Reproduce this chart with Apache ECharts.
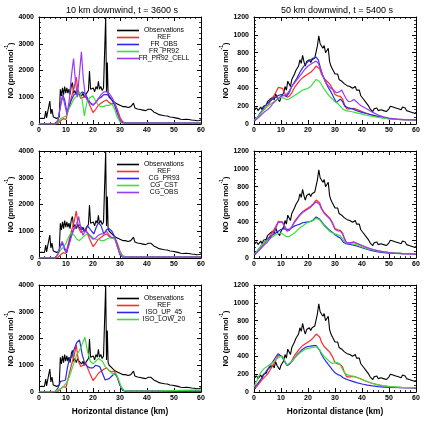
<!DOCTYPE html>
<html>
<head>
<meta charset="utf-8">
<script src="https://cdn.jsdelivr.net/npm/echarts@6/dist/echarts.min.js"></script>
<style>
  html, body { margin: 0; padding: 0; background: #fff; }
  #main { width: 425px; height: 422px; }
</style>
</head>
<body>
<div id="main"></div>
<script>
// panel titles / axis text
const colTitles = ["10 km downwind, t = 3600 s", "50 km downwind, t = 5400 s"];
const xName = "Horizontal distance (km)";
const yMaxLeft = 4000, yStepLeft = 1000;
const yMaxRight = 1200, yStepRight = 200;

// observations, 10 km downwind (same in all left panels)
const obsLeft = [
  [0,200],[0.5,190],[1,215],[1.5,180],[2,205],[2.5,480],[2.8,230],[3.5,250],[4,860],[4.4,380],[4.8,560],[5.3,260],
  [6,300],[6.5,210],[7,180],[7.5,260],[7.9,1300],[8.3,1050],[8.7,1350],[9.1,1100],[9.5,1400],[9.9,1150],[10.3,1350],
  [10.7,1150],[11.1,1300],[11.5,1100],[12,1450],[12.4,1550],[12.8,1150],[13.3,1250],[13.8,1100],[14.3,1250],[14.8,1150],
  [15.3,1200],[15.8,1050],[16.3,1150],[16.8,1000],[17.3,1100],[17.8,1050],[18.3,1250],[18.7,1980],[19.1,1300],[19.6,1250],
  [20.1,1350],[20.6,1200],[21.1,1400],[21.6,1300],[22,1600],[22.4,1300],[22.9,1400],[23.4,1250],[23.9,1350],[24.3,1400],
  [24.7,4000],[25,1200],[25.3,2300],[25.6,1100],[26,1000],[26.5,1050],[27,900],[27.5,950],[28,800],[28.5,850],[29,750],
  [29.5,800],[30,700],[30.5,720],[31,650],[31.5,700],[32,650],[32.5,680],[33,620],[33.5,600],[34,650],[34.5,600],[35,780],
  [35.5,600],[36,550],[36.5,560],[37,520],[37.5,540],[38,500],[38.5,520],[39,480],[39.5,500],[40,450],[40.5,550],[41,620],
  [41.5,550],[42,500],[42.5,450],[43,420],[43.5,400],[44,380],[44.5,350],[45,320],[45.5,330],[46,300],[46.5,310],[47,290],
  [47.5,300],[48,280],[48.5,260],[49,270],[49.5,250],[50,220],[50.5,230],[51,200],[51.5,210],[52,190],[52.5,180],[53,200],
  [53.5,170],[54,160],[54.5,180],[55,150],[55.5,170],[56,140],[56.5,150],[57,130],[57.5,140],[58,110],[58.5,120],[59,100],
  [59.5,130],[60,160]
];

// observations, 50 km downwind (same in all right panels)
const obsRight = [
  [0,170],[0.5,160],[1,180],[1.5,150],[2,170],[2.5,190],[3,160],[3.5,200],[4,180],[4.5,210],[5,250],[5.5,230],[6,280],
  [6.5,260],[7,300],[7.5,270],[8,340],[8.5,300],[9,280],[9.5,250],[10,300],[10.5,280],[11,350],[11.5,420],[12,380],
  [12.5,480],[13,500],[13.5,420],[14,500],[14.5,480],[15,560],[15.5,600],[16,580],[16.5,650],[17,720],[17.5,680],[18,770],
  [18.5,700],[19,650],[19.5,700],[20,680],[20.5,720],[21,690],[21.5,720],[22,700],[22.5,740],[23,760],[23.5,880],[24,990],
  [24.5,900],[25,920],[25.5,850],[26,880],[26.5,800],[27,820],[27.5,850],[28,700],[28.5,650],[29,620],[29.5,600],[30,560],
  [30.5,540],[31,560],[31.5,500],[32,520],[32.5,480],[33,500],[33.5,450],[34,470],[34.5,430],[35,450],[35.5,420],[36,440],
  [36.5,400],[37,390],[37.5,420],[38,380],[38.5,360],[39,380],[39.5,320],[40,300],[40.5,280],[41,260],[41.5,240],[42,230],
  [42.5,200],[43,170],[43.5,160],[44,140],[44.5,170],[45,160],[45.5,180],[46,150],[46.5,170],[47,160],[47.5,180],[48,150],
  [48.5,170],[49,140],[49.5,160],[50,170],[50.5,200],[51,210],[51.5,190],[52,200],[52.5,180],[53,190],[53.5,170],[54,180],
  [54.5,160],[55,190],[55.5,170],[56,180],[56.5,150],[57,160],[57.5,140],[58,150],[58.5,130],[59,140],[59.5,120],[60,130]
];

// REF run
const refLeft = [[0,0],[6,0],[7,20],[8,120],[9,200],[10,170],[11,600],[12,1000],[13,1350],[13.8,1750],[14.6,1150],
  [15.5,950],[16.4,1000],[17.2,1100],[18,900],[19,650],[20,430],[21,550],[22,700],[23,780],[24,850],[25,900],[26,800],
  [27,750],[28,780],[29,550],[30,250],[31,80],[32,40],[34,30],[60,30]];
const refRight = [[0,40],[1,60],[2,100],[3,140],[4,170],[5,200],[6,250],[7,300],[8,350],[9,410],[9.7,420],[10.5,400],
  [11.3,350],[12.2,300],[13,310],[14,350],[15,410],[16,450],[17,490],[18,520],[19,540],[20,560],[21,580],[22,610],[23,650],
  [23.6,655],[24.3,620],[25,560],[26,510],[27,480],[28,450],[29,400],[30,330],[31,315],[32,310],[32.8,280],[33.5,220],
  [34.3,170],[35.5,170],[37,175],[38.5,160],[40,140],[42,115],[44,95],[46,80],[48,70],[50,60],[52,55],[55,50],[60,45]];

// row 1: flash rate runs
const frObsLeft = [[0,0],[6,0],[7,100],[8,700],[8.8,1100],[9.5,900],[10.3,450],[11,600],[12,900],[13,1100],[14,1150],
  [15,1100],[16,1200],[17,1150],[18,950],[19,800],[20,720],[21,800],[22,950],[23,1000],[24,1100],[25,1100],[26,1050],
  [27,900],[28,700],[29,400],[30,150],[31,50],[33,30],[60,30]];
const frPr92Left = [[0,0],[6,0],[7,60],[8,200],[9,250],[10,300],[11,550],[12,750],[13,950],[14,1050],[15,1200],[16,900],
  [16.8,300],[17.8,850],[19,1000],[20,1050],[21,850],[22,700],[23,650],[24,650],[25,700],[26,700],[27,750],[28,550],
  [29,250],[30,80],[31,30],[60,30]];
const frCellLeft = [[0,0],[6,0],[7,150],[8,700],[8.8,1050],[9.6,700],[10.4,350],[11.2,900],[12,1800],[12.8,2450],
  [13.5,1600],[14.2,1000],[15,1900],[15.7,2700],[16.4,1700],[17.2,1000],[18.2,850],[19.2,750],[20,700],[21,800],[22,950],
  [23,1100],[24,1200],[25,1200],[26,1150],[27,1000],[28,800],[29,500],[30,150],[31,40],[33,30],[60,30]];
const frObsRight = [[0,40],[1,60],[2,110],[3,150],[4,200],[5,230],[6,260],[7,280],[8,300],[9,320],[10,330],[11,320],
  [12,310],[13,350],[14,420],[15,470],[16,520],[17,580],[18,630],[19,670],[20,700],[21,720],[22,740],[23,750],[23.8,720],
  [24.6,630],[25.5,540],[26.5,470],[27.5,410],[28.5,360],[29.5,300],[30.5,240],[31.2,220],[32,280],[32.8,250],[33.6,200],
  [35,180],[36.5,170],[38,150],[40,130],[42,115],[44,100],[46,85],[48,70],[50,60],[53,52],[56,48],[60,45]];
const frPr92Right = [[0,40],[1,60],[2,100],[3,140],[4,175],[5,200],[6,220],[7,240],[8,260],[9,280],[10,300],[11,290],
  [12,275],[13,280],[14,300],[15,320],[16,340],[17,360],[18,380],[19,390],[20,400],[21,420],[22,460],[23,500],[23.5,505],
  [24.2,480],[25,440],[26,390],[27,350],[28,310],[29,280],[30,250],[31,230],[32,200],[33,165],[34,150],[35,145],[36,140],
  [38,125],[40,110],[42,95],[44,85],[46,75],[48,65],[50,58],[55,50],[60,45]];
const frCellRight = [[0,40],[1,55],[2,80],[3,110],[4,140],[5,160],[6,190],[7,230],[8,260],[9,290],[10,310],[11,320],
  [12,330],[13,370],[14,420],[15,460],[16,500],[17,540],[18,580],[19,620],[20,650],[21,670],[22,690],[23,705],[23.8,680],
  [24.6,620],[25.5,540],[26.5,470],[27.5,430],[28.5,400],[29.5,380],[30.5,350],[31.5,360],[32.5,380],[33.3,330],[34.2,280],
  [35,250],[36,255],[37,275],[38,250],[39,220],[40,200],[42,165],[44,130],[46,100],[48,80],[50,65],[53,55],[56,50],[60,45]];

// row 2: CG runs
const cgPr93Left = [[0,0],[6,0],[7,150],[8,450],[8.7,550],[9.5,300],[10.3,200],[11,500],[12,900],[13,1100],[14,1150],
  [15,1250],[16,1100],[17,1000],[18,1200],[18.7,1250],[19.5,1000],[20.3,900],[21.2,1150],[22,1320],[23,1200],[24,900],
  [25,1050],[26,1100],[27,1000],[28,800],[29,450],[30,120],[31,40],[60,30]];
const cgCstLeft = [[0,0],[6,0],[7,120],[8,300],[9,400],[10,550],[11,800],[12,950],[13,850],[14,700],[15,650],[16,750],
  [17,850],[18,900],[19,850],[20,750],[21,700],[22,700],[23,650],[24,650],[25,700],[26,750],[27,750],[28,700],[29,450],
  [30,200],[31,80],[32,40],[60,30]];
const cgObsLeft = [[0,0],[6,0],[7,150],[8,500],[8.6,620],[9.4,400],[10.2,250],[11,450],[12,800],[13,1100],[14,1300],
  [14.7,1550],[15.5,1100],[16.3,850],[17,1000],[18,950],[19,800],[20,700],[21,750],[22,850],[23,900],[24,900],[25,1000],
  [26,850],[27,750],[28,780],[29,450],[30,130],[31,40],[60,30]];
const cgPr93Right = [[0,40],[1,70],[2,110],[3,150],[4,180],[5,210],[6,240],[7,260],[8,280],[9,300],[10,320],[11,330],
  [12,320],[13,320],[14,340],[15,360],[16,370],[17,380],[18,395],[19,400],[20,405],[21,410],[22,430],[23,460],[23.5,465],
  [24.2,440],[25,410],[26,370],[27,340],[28,310],[29,290],[30,260],[31,240],[32,225],[33,180],[34,160],[35,155],[36,150],
  [38,135],[40,115],[42,95],[44,80],[46,68],[48,60],[50,55],[55,50],[60,45]];
const cgCstRight = [[0,40],[1,70],[2,110],[3,150],[4,180],[5,200],[6,220],[7,240],[8,260],[9,275],[10,280],[11,260],
  [12,240],[13,240],[14,260],[15,280],[16,310],[17,340],[18,360],[19,380],[20,400],[21,410],[22,420],[23,445],[23.5,450],
  [24.2,430],[25,400],[26,360],[27,330],[28,300],[29,280],[30,270],[31,260],[32,250],[33,200],[34,170],[35,165],[36,160],
  [38,150],[40,125],[42,105],[44,90],[46,78],[48,68],[50,60],[55,52],[60,48]];
const cgObsRight = [[0,40],[1,60],[2,90],[3,120],[4,150],[5,180],[6,220],[7,270],[8,330],[9,400],[9.7,420],[10.5,405],
  [11.3,360],[12.2,310],[13,310],[14,350],[15,400],[16,440],[17,480],[18,510],[19,530],[20,550],[21,570],[22,600],[23,630],
  [23.6,635],[24.3,600],[25,550],[26,500],[27,470],[28,440],[29,390],[30,320],[31,305],[32,300],[32.8,270],[33.5,210],
  [34.3,170],[35.5,170],[37,180],[38.5,160],[40,140],[42,115],[44,95],[46,80],[48,70],[50,60],[52,55],[55,50],[60,45]];

// row 3: isoline runs
const isoUpLeft = [[0,0],[6,0],[7,150],[8,400],[9,420],[9.8,450],[10.5,900],[11.2,1200],[12,1300],[13,1600],[14,1850],
  [15,1950],[16,1400],[17,1050],[18,950],[19,900],[20,900],[21,1000],[21.7,1050],[22.5,950],[23.5,700],[24.5,450],[25,380],
  [26,500],[27,600],[28,700],[29,550],[30,250],[31,60],[32,30],[60,30]];
const isoLowLeft = [[0,0],[5,0],[6,30],[7,80],[8,120],[9,200],[10,320],[11,500],[12,800],[13,1100],[14,1400],[15,1550],
  [16,1800],[17,2050],[18,1500],[19,1150],[20,1050],[21,1150],[22,1250],[22.7,1300],[23.5,1150],[24.5,950],[25.5,850],
  [26.5,750],[27.5,650],[28.5,700],[29.5,450],[30.5,180],[31.5,60],[33,30],[45,40],[60,80]];
const isoUpRight = [[0,50],[1,80],[2,120],[3,160],[4,210],[5,250],[6,300],[7,340],[8,390],[9,430],[9.6,435],[10.5,390],
  [11.3,340],[12.2,300],[13,310],[14,340],[15,380],[16,420],[17,450],[18,480],[19,500],[20,510],[21,515],[22,520],[23,520],
  [23.6,510],[24.3,470],[25,420],[26,370],[27,330],[28,290],[29,250],[30,215],[31,195],[32,185],[33,160],[34,145],[35,135],
  [36,125],[38,105],[40,90],[42,78],[44,68],[46,60],[48,55],[50,52],[55,48],[60,45]];
const isoLowRight = [[0,60],[1,120],[2,190],[3,240],[4,270],[5,290],[6,310],[7,330],[8,360],[9,385],[10,400],[10.8,390],
  [11.6,330],[12.3,305],[13,310],[14,340],[15,380],[16,410],[17,440],[18,460],[19,480],[20,490],[21,495],[22,500],[23,510],
  [23.6,500],[24.3,470],[25,440],[26,400],[27,370],[28,340],[29,320],[30,330],[31,330],[32,300],[33,240],[34,200],[35,190],
  [36,180],[38,165],[40,140],[42,115],[44,95],[46,80],[48,70],[50,60],[55,52],[60,48]];

const BLACK = "#000000", RED = "#ff2a2a", BLUE = "#2a2ae6", GREEN = "#3ede3e", PURPLE = "#9a3cee";
const FONT = "Liberation Sans, Arial, Helvetica, sans-serif";

const panels = [
  { row: 0, col: 0, obs: obsLeft, runs: [["REF", refLeft, RED], ["FR_OBS", frObsLeft, BLUE], ["FR_PR92", frPr92Left, GREEN], ["FR_PR92_CELL", frCellLeft, PURPLE]] },
  { row: 0, col: 1, obs: obsRight, runs: [["REF", refRight, RED], ["FR_OBS", frObsRight, BLUE], ["FR_PR92", frPr92Right, GREEN], ["FR_PR92_CELL", frCellRight, PURPLE]] },
  { row: 1, col: 0, obs: obsLeft, runs: [["REF", refLeft, RED], ["CG_PR93", cgPr93Left, BLUE], ["CG_CST", cgCstLeft, GREEN], ["CG_OBS", cgObsLeft, PURPLE]] },
  { row: 1, col: 1, obs: obsRight, runs: [["REF", refRight, RED], ["CG_PR93", cgPr93Right, BLUE], ["CG_CST", cgCstRight, GREEN], ["CG_OBS", cgObsRight, PURPLE]] },
  { row: 2, col: 0, obs: obsLeft, runs: [["REF", refLeft, RED], ["ISO_UP_45", isoUpLeft, BLUE], ["ISO_LOW_20", isoLowLeft, GREEN]] },
  { row: 2, col: 1, obs: obsRight, runs: [["REF", refRight, RED], ["ISO_UP_45", isoUpRight, BLUE], ["ISO_LOW_20", isoLowRight, GREEN]] }
];

const gridLeft = [39, 254];
const gridTop = [17, 151, 285];
const gridW = 162, gridH = 107;

const grid = [], xAxis = [], yAxis = [], series = [], legend = [];

function axisBase(showLabel) {
  return {
    type: "value",
    axisLine: { show: true, onZero: false, lineStyle: { color: "#000", width: 1 } },
    axisTick: { show: true, inside: true, length: 4, lineStyle: { color: "#000", width: 1 } },
    minorTick: { show: true, splitNumber: 5, length: 2, lineStyle: { color: "#000", width: 0.8 } },
    splitLine: { show: false },
    axisLabel: {
      show: showLabel, fontSize: 7, fontWeight: "bold", color: "#000", fontFamily: FONT,
      formatter: v => String(v)
    }
  };
}

panels.forEach((p, i) => {
  grid.push({ left: gridLeft[p.col], top: gridTop[p.row], width: gridW, height: gridH });
  const yMax = p.col === 0 ? yMaxLeft : yMaxRight;
  const yStep = p.col === 0 ? yStepLeft : yStepRight;

  const xb = axisBase(true);
  Object.assign(xb, { gridIndex: i, min: 0, max: 60, interval: 10, position: "bottom" });
  xb.axisLabel.margin = 3;
  if (p.row === 2) {
    Object.assign(xb, {
      name: xName, nameLocation: "middle", nameGap: 16,
      nameTextStyle: { fontSize: 8.3, fontWeight: "bold", color: "#000", fontFamily: FONT }
    });
  }
  const xt = axisBase(false);
  Object.assign(xt, { gridIndex: i, min: 0, max: 60, interval: 10, position: "top" });
  xAxis.push(xb, xt);

  const yl = axisBase(true);
  Object.assign(yl, {
    gridIndex: i, min: 0, max: yMax, interval: yStep, position: "left",
    name: "{n|NO (pmol mol}{s|-1}{n|)}", nameLocation: "middle", nameGap: 23, nameRotate: 90,
    nameTextStyle: {
      color: "#000",
      rich: {
        n: { fontSize: 7.5, fontWeight: "bold", fontFamily: FONT, color: "#000", lineHeight: 10, verticalAlign: "bottom" },
        s: { fontSize: 5, fontWeight: "bold", fontFamily: FONT, color: "#000", lineHeight: 10, verticalAlign: "top", padding: [0, 0, 4, 0] }
      }
    }
  });
  yl.axisLabel.margin = 5;
  const yr = axisBase(false);
  Object.assign(yr, { gridIndex: i, min: 0, max: yMax, interval: yStep, position: "right" });
  yAxis.push(yl, yr);

  const common = { type: "line", xAxisIndex: 2 * i, yAxisIndex: 2 * i, symbol: "none", silent: true, animation: false };
  series.push(Object.assign({}, common, {
    name: "Observations", data: p.obs,
    itemStyle: { color: BLACK }, lineStyle: { color: BLACK, width: 1.1 }
  }));
  p.runs.forEach(r => {
    series.push(Object.assign({}, common, {
      name: r[0], data: r[1],
      itemStyle: { color: r[2] }, lineStyle: { color: r[2], width: 1.2 }
    }));
  });

  if (p.col === 0) {
    legend.push({
      data: ["Observations"].concat(p.runs.map(r => r[0])),
      orient: "vertical", left: 117, top: gridTop[p.row] + 10,
      icon: "rect", itemWidth: 22, itemHeight: 1.6, itemGap: 0, padding: 0,
      selectedMode: false,
      formatter: n => "{a|" + n + "}",
      textStyle: {
        color: "#000",
        rich: { a: { width: 40, align: "center", fontSize: 6.8, lineHeight: 7.3, fontFamily: FONT, color: "#000" } }
      }
    });
  }
});

const chart = echarts.init(document.getElementById("main"), null, { renderer: "canvas" });
chart.setOption({
  animation: false,
  backgroundColor: "#fff",
  title: colTitles.map((t, c) => ({
    text: t, left: gridLeft[c] + gridW / 2 - 3, top: 1, textAlign: "center",
    textStyle: { fontSize: 9, fontWeight: "normal", color: "#000", fontFamily: FONT }
  })),
  grid, xAxis, yAxis, series, legend
});
</script>
</body>
</html>
